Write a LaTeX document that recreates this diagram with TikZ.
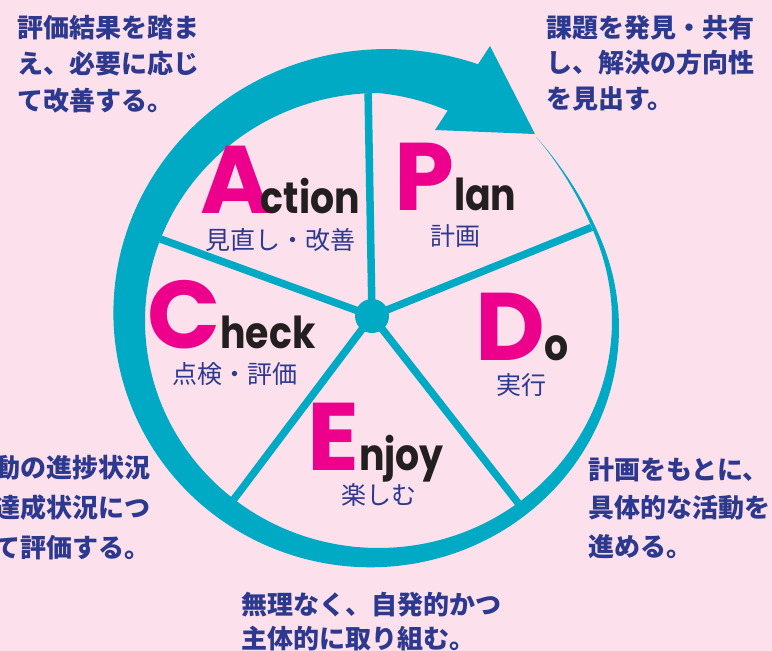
\documentclass[tikz,border=0pt]{standalone}
\usepackage{fontspec}
\newfontfamily\jpf{Noto Sans CJK JP}
\newfontfamily\capfam{Poppins}
\newfontfamily\lowfam{Poppins}[FakeStretch=0.86]
\definecolor{bg}{RGB}{252,224,236}
\definecolor{tealc}{RGB}{0,170,197}
\definecolor{mag}{RGB}{236,0,140}
\definecolor{ink}{RGB}{35,31,32}
\definecolor{navy}{RGB}{44,57,143}
\newcommand\capletter[1]{{\color{mag}\capfam\bfseries\fontsize{96}{96}\selectfont #1}}
\newcommand\restword[1]{{\color{ink}\lowfam\bfseries\fontsize{44}{44}\selectfont #1}}
\tikzset{
  spoke/.style={draw=tealc, line width=7.5pt},
  sublab/.style={text=navy, font=\jpf\fontsize{25}{25}\selectfont, inner sep=0pt},
  desc/.style={text=navy, align=left, anchor=north west, inner sep=0pt},
  word/.style={anchor=base west, inner sep=0pt},
}
\begin{document}
\begin{tikzpicture}[x=1pt,y=-1pt]
\fill[bg] (0,0) rectangle (772,651);
\useasboundingbox (0,0) rectangle (772,651);
\coordinate (O) at (378.5,320.5);
\coordinate (H) at (372,316);
% spokes clipped to the pie
\begin{scope}
\clip (O) ellipse [x radius=233.5, y radius=227.5];
\foreach \a/\n in {91/s1,22/s2,-52/s3,-127/s4,160/s5}{
  \path (H) ++({300*cos(\a)},{-300*sin(\a)}) coordinate (\n);
  \draw[spoke] (H) -- (\n);
}
\end{scope}
% tapering ring
\fill[tealc] plot[domain=0:341, samples=240, variable=\t]
  ({378.5+(233.5+12*(max(0,1-\t/30))^2+0.137*\t)*cos(50-\t)},
   {320.5-(227.5+12*(max(0,1-\t/30))^2+0.137*\t)*sin(50-\t)})
  -- plot[domain=338:0, samples=240, variable=\t]
  ({378.5+(233.5+12*(max(0,1-\t/30))^2-0.4*max(0,\t-320))*cos(50-\t)},
   {320.5-(227.5+12*(max(0,1-\t/30))^2-0.4*max(0,\t-320))*sin(50-\t)})
  -- cycle;
% arrowhead
\coordinate (AT) at (490,46);
\coordinate (AP) at (535,134);
\coordinate (AL) at (435,130);
\fill[tealc] (AT) -- (AP) -- (AL) -- cycle;
% hub
\fill[tealc] (H) circle[radius=17];
% words
\node[word] (A) at (200,213) {\capletter{A}\kern-10pt\restword{ction}};
\node[sublab] (Aj) at (280,240) {見直し・改善};
\node[word] (P) at (394,210) {\capletter{P}\restword{lan}};
\node[sublab] (Pj) at (455,236) {計画};
\node[word] (C) at (147,348) {\capletter{C}\restword{heck}};
\node[sublab] (Cj) at (235,374) {点検・評価};
\node[word] (D) at (475,360) {\capletter{D}\restword{o}};
\node[sublab] (Dj) at (521,385) {実行};
\node[word] (E) at (307,470) {\capletter{E}\restword{njoy}};
\node[sublab] (Ej) at (379,495) {楽しむ};
% descriptions
\node[desc, font=\jpf\bfseries\fontsize{26}{36.5}\selectfont] (tl) at (17,15) {評価結果を踏ま\\え、必要に応じ\\て改善する。};
\node[desc, font=\jpf\bfseries\fontsize{26}{35.5}\selectfont] (tr) at (546,15) {課題を発見・共有\\し、解決の方向性\\を見出す。};
\node[desc, font=\jpf\bfseries\fontsize{26}{40}\selectfont] (bl) at (-6,455) {動の進捗状況\\達成状況につ\\て評価する。};
\node[desc, font=\jpf\bfseries\fontsize{26}{38.5}\selectfont] (br) at (588,457) {計画をもとに、\\具体的な活動を\\進める。};
\node[desc, font=\jpf\bfseries\fontsize{26}{34}\selectfont] (bt) at (241,592) {無理なく、自発的かつ\\主体的に取り組む。};
\end{tikzpicture}
\end{document}
